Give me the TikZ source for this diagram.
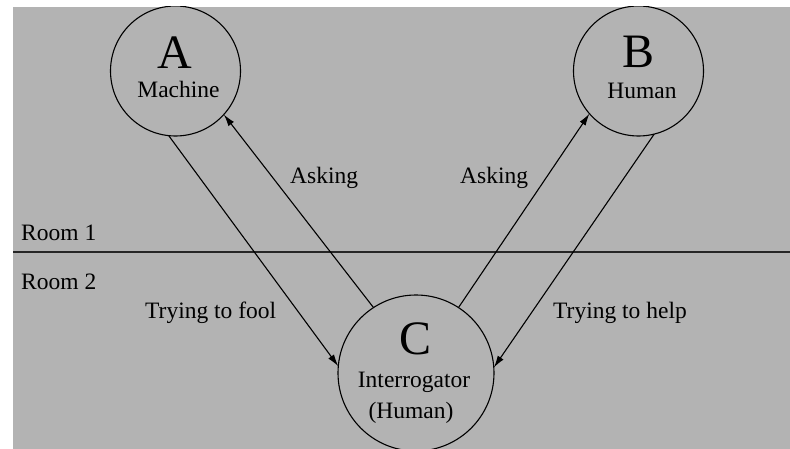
\documentclass[tikz,border=0pt]{standalone}
\usepackage{fontspec}
\setmainfont{Liberation Serif}
\usetikzlibrary{arrows.meta}
\definecolor{bggray}{RGB}{179,179,179}
\tikzset{
  room/.style={circle, draw=black, line width=1.1pt, inner sep=0pt, outer sep=0pt},
  big/.style={anchor=base, inner sep=0pt, font=\fontsize{48}{48}\selectfont},
  txt/.style={anchor=base, inner sep=0pt, font=\fontsize{23.5}{24}\selectfont},
  lbl/.style={anchor=base west, inner sep=0pt, font=\fontsize{23.5}{24}\selectfont},
  conn/.style={line width=1.1pt, draw=black, -{Latex[length=12pt,width=7pt]}}
}
\begin{document}
\begin{tikzpicture}[x=1pt,y=-1pt]
\useasboundingbox (0,0) rectangle (790,449);
\fill[white] (0,0) rectangle (790,449);
\fill[bggray] (13,7) rectangle (790,449);
\begin{scope}
\clip (13,7) rectangle (790,449);
% room divider
\coordinate (wl) at (13,252);
\coordinate (wr) at (790,252);
\draw[line width=1.8pt, black!85] (wl) -- (wr);
% circles
\node[room, minimum size=130pt] (A) at (175.5,71) {};
\node[room, minimum size=130pt] (B) at (638.5,71) {};
\node[room, minimum size=156pt] (C) at (416,373) {};
% texts inside
\node[big] (Al) at (175,69) {A};
\node[txt] (Am) at (178.5,98) {Machine};
\node[big] (Bl) at (639,68) {B};
\node[txt] (Bm) at (642,99) {Human};
\node[big] (Cl) at (415.5,354) {C};
\node[txt] (Cm) at (414,387) {Interrogator};
\node[txt] (Ch) at (411,418) {(Human)};
% room labels
\node[lbl] (r1) at (21,241) {Room 1};
\node[lbl] (r2) at (21,290) {Room 2};
% edge labels
\node[lbl] (ask1) at (290,184) {Asking};
\node[lbl] (ask2) at (460,184) {Asking};
\node[lbl] (fool) at (145,318) {Trying to fool};
\node[lbl] (help) at (553,318) {Trying to help};
% connectors
\draw[conn] (A.-96.6) -- (C.175.6);
\draw[conn] (C.123) -- (A.-42.4);
\draw[conn] (C.57.9) -- (B.-139.1);
\draw[conn] (B.-76.4) -- (C.4.4);
\end{scope}
\end{tikzpicture}
\end{document}
